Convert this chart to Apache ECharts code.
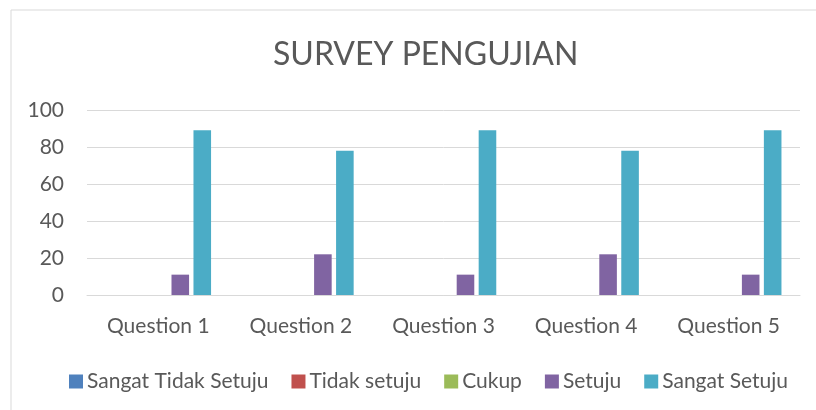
<!DOCTYPE html>
<html>
<head>
<meta charset="utf-8">
<script src="https://cdn.jsdelivr.net/npm/echarts@6/dist/echarts.min.js"></script>
<style>
  html, body { margin: 0; padding: 0; background: #fff; }
  #container { width: 816px; height: 410px; }
</style>
</head>
<body>
<div id="container"></div>
<script>
var categories = ['Question 1', 'Question 2', 'Question 3', 'Question 4', 'Question 5'];
var seriesNames = ['Sangat Tidak Setuju', 'Tidak setuju', 'Cukup', 'Setuju', 'Sangat Setuju'];
var sangatTidakSetuju = [0, 0, 0, 0, 0];
var tidakSetuju = [0, 0, 0, 0, 0];
var cukup = [0, 0, 0, 0, 0];
var setuju = [11, 22, 11, 22, 11];
var sangatSetuju = [89, 78, 89, 78, 89];
var colors = ['#4f81bd', '#c0504d', '#9bbb59', '#8064a2', '#4bacc6'];

var font = 'Lato, "Open Sans", sans-serif';
var values = [sangatTidakSetuju, tidakSetuju, cukup, setuju, sangatSetuju];

var option = {
    animation: false,
    backgroundColor: '#fff',
    color: colors,
    title: {
        text: 'SURVEY PENGUJIAN',
        left: 268,
        top: 34,
        textStyle: { color: '#595959', fontSize: 32, fontWeight: 'normal', fontFamily: font }
    },
    legend: {
        top: 366,
        left: 64,
        itemWidth: 14,
        itemHeight: 14,
        itemGap: 23,
        icon: 'rect',
        textStyle: { color: '#595959', fontSize: 21, fontFamily: font, padding: [0, 0, 0, -1] },
        data: seriesNames
    },
    grid: { left: 87, right: 16, top: 110, bottom: 115, containLabel: false },
    xAxis: {
        type: 'category',
        data: categories,
        axisLine: { lineStyle: { color: '#d9d9d9', width: 1 } },
        axisTick: { show: false },
        axisLabel: { color: '#595959', fontSize: 21, fontFamily: font, margin: 21 }
    },
    yAxis: {
        type: 'value',
        min: 0,
        max: 100,
        interval: 20,
        axisLine: { show: false },
        axisTick: { show: false },
        splitLine: { lineStyle: { color: '#d9d9d9', width: 1 } },
        axisLabel: { color: '#595959', fontSize: 21, fontFamily: font, margin: 23 }
    },
    graphic: [{
        type: 'rect',
        shape: { x: 11, y: 10, width: 820, height: 420 },
        style: { fill: 'none', stroke: '#d9d9d9', lineWidth: 1 },
        silent: true
    }],
    series: seriesNames.map(function (name, i) {
        return {
            name: name,
            type: 'bar',
            data: values[i],
            barGap: '25%',
            barCategoryGap: '26%'
        };
    })
};

var myChart = echarts.init(document.getElementById('container'));
myChart.setOption(option);
</script>
</body>
</html>
